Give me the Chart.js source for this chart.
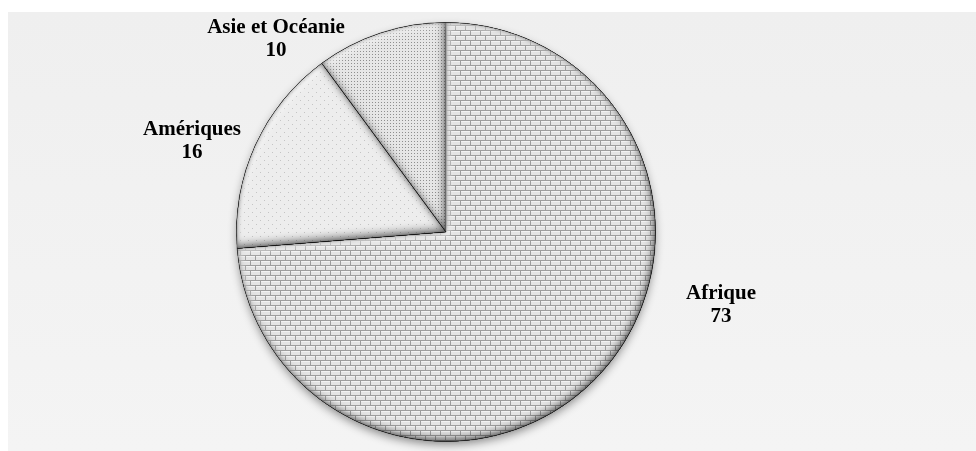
<!DOCTYPE html>
<html lang="fr">
<head>
<meta charset="utf-8">
<script src="https://cdn.jsdelivr.net/npm/chart.js@4.4.1/dist/chart.umd.min.js"></script>
<style>
  html, body { margin: 0; padding: 0; background: #ffffff; }
  #wrap { width: 976px; height: 451px; }
</style>
</head>
<body>
<div id="wrap"><canvas id="pie" width="976" height="451"></canvas></div>
<script>
const regions = ['Afrique', 'Amériques', 'Asie et Océanie'];
const counts = [73, 16, 10];

// label anchor, relative to the pie centre (first line of each label)
const labelOffsets = [[275, 62], [-254, -102], [-170, -204]];

function makePattern(w, h, paint) {
    let c = document.createElement('canvas');
    c.width = w;
    c.height = h;
    paint(c.getContext('2d'));
    return c.getContext('2d').createPattern(c, 'repeat');
}

// horizontal brick
const brick = makePattern(10, 10, (g) => {
    g.fillStyle = '#9e9e9e';
    g.fillRect(0, 0, 10, 10);
    g.fillStyle = '#e4e4e4';
    g.fillRect(1, 1, 9, 4);
    g.fillRect(0, 6, 5, 4);
    g.fillRect(6, 6, 4, 4);
    g.fillStyle = '#f2f2f2';
    g.fillRect(1, 1, 9, 1);
    g.fillRect(0, 6, 5, 1);
    g.fillRect(6, 6, 4, 1);
});

// sparse dots
const sparse = makePattern(8, 8, (g) => {
    g.fillStyle = '#ededed';
    g.fillRect(0, 0, 8, 8);
    g.fillStyle = '#c4c4c4';
    g.fillRect(0, 0, 1, 1);
    g.fillRect(4, 4, 1, 1);
});

// dense dots
const dotted = makePattern(3, 3, (g) => {
    g.fillStyle = '#e6e6e6';
    g.fillRect(0, 0, 3, 3);
    g.fillStyle = '#8e8e8e';
    g.fillRect(0, 0, 1, 1);
});

function slicePath(ctx, p) {
    ctx.beginPath();
    ctx.moveTo(p.x, p.y);
    ctx.arc(p.x, p.y, p.outerRadius, p.startAngle, p.endAngle);
    ctx.closePath();
}

// fills everything outside the slice so only its shadow lands inside
function innerShadow(ctx, p, color, blur, dx, dy) {
    ctx.save();
    slicePath(ctx, p);
    ctx.clip();
    ctx.beginPath();
    ctx.rect(p.x - 2000, p.y - 2000, 4000, 4000);
    ctx.moveTo(p.x, p.y);
    ctx.arc(p.x, p.y, p.outerRadius, p.startAngle, p.endAngle);
    ctx.closePath();
    ctx.shadowColor = color;
    ctx.shadowBlur = blur;
    ctx.shadowOffsetX = dx;
    ctx.shadowOffsetY = dy;
    ctx.fillStyle = '#000';
    ctx.fill('evenodd');
    ctx.restore();
}

const panelPlugin = {
    id: 'panel',
    beforeDraw(chart) {
        let ctx = chart.ctx;
        let grad = ctx.createLinearGradient(0, 12, 0, 451);
        grad.addColorStop(0, '#efefef');
        grad.addColorStop(1, '#f4f4f4');
        ctx.save();
        ctx.fillStyle = grad;
        ctx.fillRect(8, 12, 968, 439);
        ctx.restore();
    },
    beforeDatasetsDraw(chart) {
        let ctx = chart.ctx;
        let p = chart.getDatasetMeta(0).data[0].getProps(['x', 'y', 'outerRadius'], true);
        ctx.save();
        ctx.beginPath();
        ctx.arc(p.x, p.y, p.outerRadius - 1, 0, Math.PI * 2);
        ctx.shadowColor = 'rgba(0,0,0,0.45)';
        ctx.shadowBlur = 10;
        ctx.shadowOffsetY = 4;
        ctx.fillStyle = '#dddddd';
        ctx.fill();
        ctx.restore();
    },
    afterDatasetsDraw(chart) {
        let ctx = chart.ctx;
        let arcs = chart.getDatasetMeta(0).data;
        arcs.forEach((el) => {
            let p = el.getProps(['x', 'y', 'startAngle', 'endAngle', 'outerRadius'], true);
            // bevel: light on the upper-left edges, dark on the lower-right ones
            innerShadow(ctx, p, 'rgba(255,255,255,0.9)', 6, 3, 3);
            innerShadow(ctx, p, 'rgba(0,0,0,0.55)', 8, -2, -3);
            innerShadow(ctx, p, 'rgba(0,0,0,0.25)', 4, 0, 0);
        });

        // labels: name on the first line, value below
        let c = arcs[0].getProps(['x', 'y'], true);
        ctx.save();
        ctx.fillStyle = '#000';
        ctx.font = 'bold 21px "Liberation Serif", "Times New Roman", serif';
        ctx.textAlign = 'center';
        ctx.textBaseline = 'middle';
        regions.forEach((name, i) => {
            let lx = c.x + labelOffsets[i][0];
            let ly = c.y + labelOffsets[i][1];
            ctx.fillText(name, lx, ly);
            ctx.fillText(String(counts[i]), lx, ly + 23);
        });
        ctx.restore();
    }
};

new Chart(document.getElementById('pie').getContext('2d'), {
    type: 'pie',
    data: {
        labels: regions,
        datasets: [
            {
                data: counts,
                backgroundColor: [brick, sparse, dotted],
                borderColor: '#6e6e6e',
                borderWidth: 1,
                hoverOffset: 0
            }
        ]
    },
    options: {
        responsive: false,
        animation: false,
        layout: {
            padding: { top: 22, bottom: 9, left: 0, right: 84 }
        },
        plugins: {
            legend: { display: false },
            tooltip: { enabled: false }
        }
    },
    plugins: [panelPlugin]
});
</script>
</body>
</html>
